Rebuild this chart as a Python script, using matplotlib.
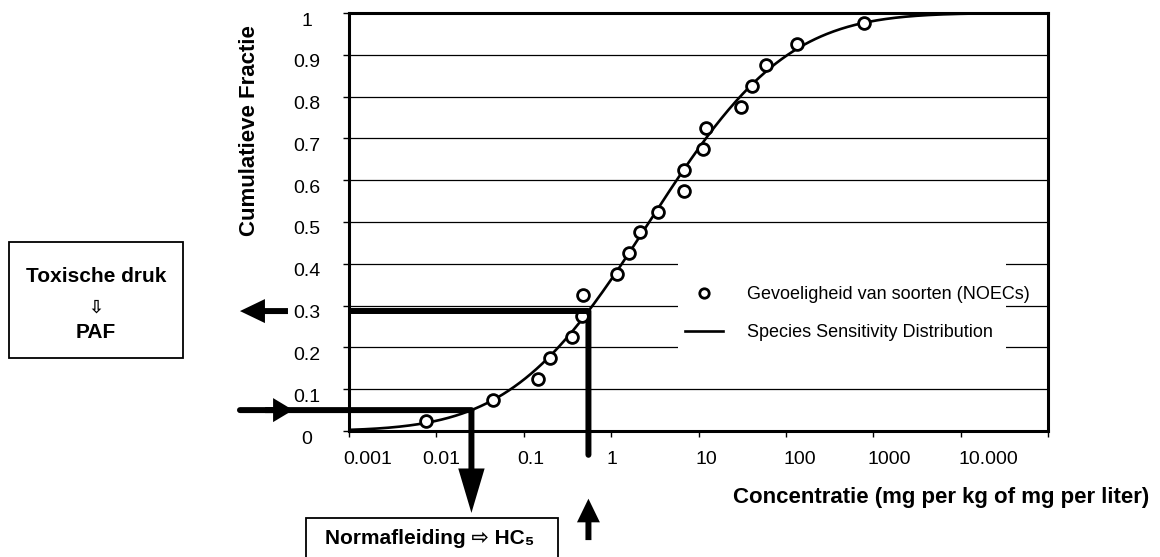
import math
import numpy as np
import matplotlib
matplotlib.use("Agg")
import matplotlib.pyplot as plt
from matplotlib.patches import Rectangle
from matplotlib.ticker import NullLocator
from matplotlib.transforms import offset_copy

plt.rcParams['font.family'] = ['Liberation Sans', 'DejaVu Sans']

# ------------------------------------------------------------
# Gegevens: NOEC per soort (mg/kg of mg/l) en cumulatieve fractie
# ------------------------------------------------------------
noec = [0.0076, 0.045, 0.146, 0.198, 0.356, 0.469, 0.475, 1.16, 1.60, 2.12,
        3.43, 6.8, 6.9, 11.2, 12.2, 30.6, 40.6, 59.4, 133, 789]
fractie = [0.025, 0.075, 0.125, 0.175, 0.225, 0.275, 0.325, 0.375, 0.425, 0.475,
           0.525, 0.575, 0.625, 0.675, 0.725, 0.775, 0.825, 0.875, 0.925, 0.975]
blootstelling = 0.55   # concentratie in het milieu -> PAF

x_ticks = [0.001, 0.01, 0.1, 1, 10, 100, 1000, 10000]
x_labels = ['0.001', '0.01', '0.1', '1', '10', '100', '1000', '10.000']
y_ticks = [0, 0.1, 0.2, 0.3, 0.4, 0.5, 0.6, 0.7, 0.8, 0.9, 1]
y_labels = ['0', '0.1', '0.2', '0.3', '0.4', '0.5', '0.6', '0.7', '0.8', '0.9', '1']

# verschuiving van de aslabels zoals in het origineel (pixels)
x_label_dx = [19, 5, 7, 1, 8, 14, 16, 28]

# ------------------------------------------------------------
# SSD: log-normale verdeling gefit op de NOEC's
# ------------------------------------------------------------
log_noec = np.log10(noec)
mu = log_noec.mean()
sd = log_noec.std(ddof=1)


def ssd(c):
    z = (np.log10(c) - mu) / sd
    return 0.5 * (1 + np.vectorize(math.erf)(z / math.sqrt(2)))


hc5 = 10 ** (mu - 1.645 * sd)
paf = float(ssd(blootstelling))

W, H = 1160, 557
fig = plt.figure(figsize=(W / 100, H / 100), dpi=100)
ax = fig.add_axes([349 / W, 1 - 431 / H, 699 / W, 418 / H])

xs = np.logspace(-3, 5, 500)
ax.set_xscale('log')
ax.set_xlim(1e-3, 1e5)
ax.set_ylim(0, 1)
ax.set_xticks(10.0 ** np.arange(-3, 6))
ax.xaxis.set_minor_locator(NullLocator())
ax.set_yticks(y_ticks)
ax.tick_params(labelbottom=False, labelleft=False, direction='out',
               length=4, width=1, color='black')
ax.yaxis.grid(True, color='black', lw=0.9)
ax.set_axisbelow(True)
for s in ax.spines.values():
    s.set_linewidth(2.2)

curve, = ax.plot(xs, ssd(xs), color='black', lw=1.9, zorder=3)
pts, = ax.plot(noec, fractie, 'o', mfc='white', mec='black', ms=8.5, mew=2,
               zorder=4)

# witte vlak achter de legenda (onderbreekt de rasterlijnen)
ax.add_patch(Rectangle((0.4707, 0.179), 0.4693, 0.254, transform=ax.transAxes,
                       facecolor='white', edgecolor='none', zorder=1))
leg = ax.legend([pts, curve],
                ['Gevoeligheid van soorten (NOECs)', 'Species Sensitivity Distribution'],
                loc='upper left', bbox_to_anchor=(0.481, 0.347), frameon=False,
                fontsize=13, handlelength=2.1, handletextpad=1.3,
                labelspacing=1.17, borderpad=0, borderaxespad=0, markerscale=0.8)
leg.set_zorder(5)

# aslabels als losse tekst (zoals in het origineel iets verschoven)
xt = ax.get_xaxis_transform()
for v, lab, dx in zip(x_ticks, x_labels, x_label_dx):
    ax.text(v, -0.067, lab, transform=offset_copy(xt, fig, x=dx, units='dots'),
            ha='center', va='center', fontsize=14, clip_on=False)
yt = ax.get_yaxis_transform()
for v, lab in zip(y_ticks, y_labels):
    ax.text(-0.060, v, lab, transform=offset_copy(yt, fig, y=-8, units='dots'),
            ha='center', va='center', fontsize=14, clip_on=False)

fig.text(249 / W, 1 - 131 / H, 'Cumulatieve Fractie', rotation=90,
         ha='center', va='center', fontsize=16, fontweight='bold')
fig.text(733 / W, 1 - 497 / H, 'Concentratie (mg per kg of mg per liter)',
         ha='left', va='center', fontsize=16, fontweight='bold')

# ------------------------------------------------------------
# pijlen: HC5 (normafleiding) en PAF (toxische druk)
# ------------------------------------------------------------
mix = ('axes fraction', 'data')
dax = ('data', 'axes fraction')
LW = 4.3

# 5% -> HC5
ax.annotate('', xy=(hc5, 0.05), xycoords='data', xytext=(-0.156, 0.05),
            textcoords=mix,
            arrowprops=dict(arrowstyle='-', lw=LW, color='black', shrinkA=0,
                            shrinkB=0, capstyle='round'))
ax.annotate('', xy=(-0.080, 0.05), xycoords=mix, xytext=(-0.12, 0.05),
            textcoords=mix,
            arrowprops=dict(arrowstyle='simple,head_length=14.4,head_width=17.3,tail_width=4.3',
                            mutation_scale=1, fc='black', ec='none',
                            shrinkA=0, shrinkB=0))
ax.annotate('', xy=(hc5, -0.196), xycoords=dax, xytext=(hc5, 0.05),
            textcoords='data',
            arrowprops=dict(arrowstyle='simple,head_length=32,head_width=19,tail_width=4.3',
                            mutation_scale=1, fc='black', ec='none',
                            shrinkA=0, shrinkB=0))

# blootstelling -> PAF
ax.plot([1e-3, blootstelling], [paf, paf], color='black', lw=LW,
        solid_capstyle='butt', clip_on=False, zorder=6)
ax.annotate('', xy=(blootstelling, -0.057), xycoords=dax, xytext=(blootstelling, paf),
            textcoords='data',
            arrowprops=dict(arrowstyle='-', lw=LW, color='black', shrinkA=0,
                            shrinkB=0))
ax.annotate('', xy=(blootstelling, -0.162), xycoords=dax,
            xytext=(blootstelling, -0.261), textcoords=dax,
            arrowprops=dict(arrowstyle='simple,head_length=17,head_width=16.5,tail_width=4.3',
                            mutation_scale=1, fc='black', ec='none',
                            shrinkA=0, shrinkB=0))
ax.annotate('', xy=(-0.156, paf), xycoords=mix, xytext=(-0.0873, paf),
            textcoords=mix,
            arrowprops=dict(arrowstyle='simple,head_length=18,head_width=17.3,tail_width=4.3',
                            mutation_scale=1, fc='black', ec='none',
                            shrinkA=0, shrinkB=0))

# kaders
fig.add_artist(Rectangle((9 / W, 1 - 358 / H), 174 / W, 116 / H,
                         transform=fig.transFigure, fill=False, lw=1.3,
                         edgecolor='black'))
fig.text(96 / W, 1 - 277 / H, 'Toxische druk', ha='center', va='center',
         fontsize=15, fontweight='bold')
fig.text(96 / W, 1 - 308 / H, '⇩', ha='center', va='center', fontsize=13,
         fontweight='bold')
fig.text(96 / W, 1 - 333 / H, 'PAF', ha='center', va='center',
         fontsize=15, fontweight='bold')

fig.add_artist(Rectangle((306 / W, -0.02), 252 / W, 1 - 518 / H + 0.02,
                         transform=fig.transFigure, fill=False, lw=1.3,
                         edgecolor='black'))
fig.text(430 / W, 1 - 538 / H, 'Normafleiding ⇨ HC₅', ha='center',
         va='center', fontsize=15, fontweight='bold')

fig.savefig('out.png', dpi=100)
